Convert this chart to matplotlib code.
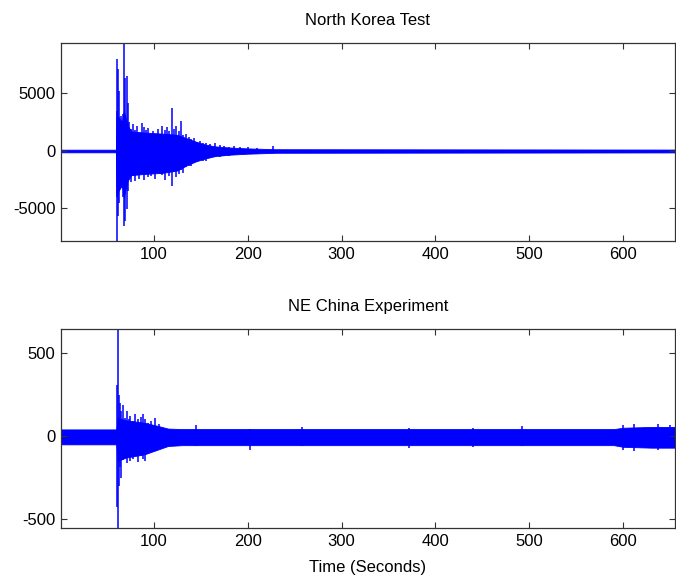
import matplotlib
matplotlib.use("Agg")
import matplotlib.pyplot as plt
import numpy as np

plt.rcParams['font.family'] = ['Liberation Sans', 'DejaVu Sans']
plt.rcParams['axes.unicode_minus'] = False

# ---- North Korea Test: dense part of the trace (time s, upper, lower) ----
nk_band_t = [1, 59.5, 60.5, 62, 66, 68, 72, 76, 90, 110, 125, 135, 145, 155, 165, 180, 200, 230, 655]
nk_band_hi = [110, 110, 3000, 3000, 2500, 3500, 2200, 1700, 1600, 1500, 1400, 1100, 800, 550, 400, 300, 220, 150, 120]
nk_band_lo = [-120, -120, -4000, -3500, -3000, -4000, -2600, -2100, -2000, -1900, -1700, -1250, -900, -650, -450, -330, -240, -160, -130]

# individual strokes (time s, peak, trough)
nk_spike_t = [60.3, 61.2, 62.1, 63.3, 64.6, 66.0, 67.2, 68.4, 69.7, 71.0, 72.2, 73.4,
              75.5, 77.5, 80, 82, 84.5, 87, 89, 91.5, 94, 96.5, 99, 101.5, 104,
              106.5, 109, 111.5, 114, 116.5, 119, 121.5, 124, 126.5, 129, 131.5,
              134, 137, 140, 143, 146, 149, 152, 156, 160, 165, 170, 175, 180,
              185, 192, 200, 210, 227]
nk_spike_hi = [7970, 3500, 7100, 5200, 3000, 2600, 3200, 9390, 6300, 6520, 4200, 2500,
               1900, 2300, 1800, 2200, 1600, 2400, 2100, 1800, 2000, 1500, 1700, 1400, 1900,
               1500, 2200, 1800, 2100, 1700, 3770, 1900, 2200, 1700, 2600, 1400,
               1500, 1200, 1000, 1100, 800, 900, 700, 730, 600, 650, 500, 400, 350,
               430, 300, 350, 250, 430]
nk_spike_lo = [-7830, -4000, -5650, -4500, -2500, -3000, -4000, -6520, -6100, -5070, -3500, -2460,
               -2700, -2200, -2600, -2000, -2400, -2000, -2500, -1900, -2300, -2200, -1800, -2400, -1900,
               -2000, -2100, -2500, -1800, -2200, -3040, -1800, -2300, -2000, -1700, -1900,
               -1400, -1300, -1300, -1000, -1000, -700, -900, -870, -600, -500, -500, -450, -400,
               -290, -300, -250, -250, -200]

# ---- NE China Experiment ----
cn_band_t = [1, 60, 61.5, 70, 90, 105, 115, 130, 590, 600, 630, 655]
cn_band_hi = [40, 40, 110, 95, 80, 60, 45, 42, 42, 50, 55, 55]
cn_band_lo = [-50, -50, -150, -130, -110, -80, -60, -55, -55, -65, -70, -70]

cn_spike_t = [61.4, 60.8, 62.3, 63.5, 65, 67, 69, 71, 73, 75, 78, 80, 83, 86, 88, 91,
              94, 97, 101, 105, 145, 202, 258, 372, 440, 492, 600, 612, 637, 650]
cn_spike_hi = [645, 307, 250, 198, 150, 190, 110, 150, 100, 120, 90, 130, 100, 115, 130, 100,
               80, 90, 110, 70, 65, 45, 55, 50, 50, 62, 65, 70, 70, 65]
cn_spike_lo = [-554, -425, -300, -185, -250, -145, -130, -160, -110, -150, -140, -100, -155, -120, -140, -150,
               -110, -90, -90, -80, -60, -85, -60, -70, -65, -60, -85, -90, -85, -75]

x_ticks = [100, 200, 300, 400, 500, 600]
x_range = (1, 655)

fig = plt.figure(figsize=(6.76, 5.79), dpi=100)
ax1 = fig.add_axes([0.0902, 0.5838, 0.908, 0.342])
ax2 = fig.add_axes([0.0902, 0.0881, 0.908, 0.3437])

panels = [
    (ax1, "North Korea Test", nk_band_t, nk_band_hi, nk_band_lo,
     nk_spike_t, nk_spike_hi, nk_spike_lo, (-7830, 9390), [-5000, 0, 5000]),
    (ax2, "NE China Experiment", cn_band_t, cn_band_hi, cn_band_lo,
     cn_spike_t, cn_spike_hi, cn_spike_lo, (-554, 645), [-500, 0, 500]),
]

for ax, title, bt, bhi, blo, st, shi, slo, ylim, yt in panels:
    ax.fill_between(bt, bhi, blo, color=(0, 0, 1), lw=0.6)
    ax.vlines(st, slo, shi, color=(0, 0, 1), lw=1.1)
    ax.set_xlim(*x_range)
    ax.set_ylim(*ylim)
    ax.set_xticks(x_ticks)
    ax.set_yticks(yt)
    ax.set_title(title, fontsize=12, pad=13)
    ax.tick_params(direction="in", top=True, right=True, length=4,
                   labelsize=12, pad=4, color="#333333")
    for s in ax.spines.values():
        s.set_color("#333333")
        s.set_linewidth(0.9)

ax2.set_xlabel("Time (Seconds)", fontsize=12, labelpad=8)

fig.savefig("out.png", dpi=100)
